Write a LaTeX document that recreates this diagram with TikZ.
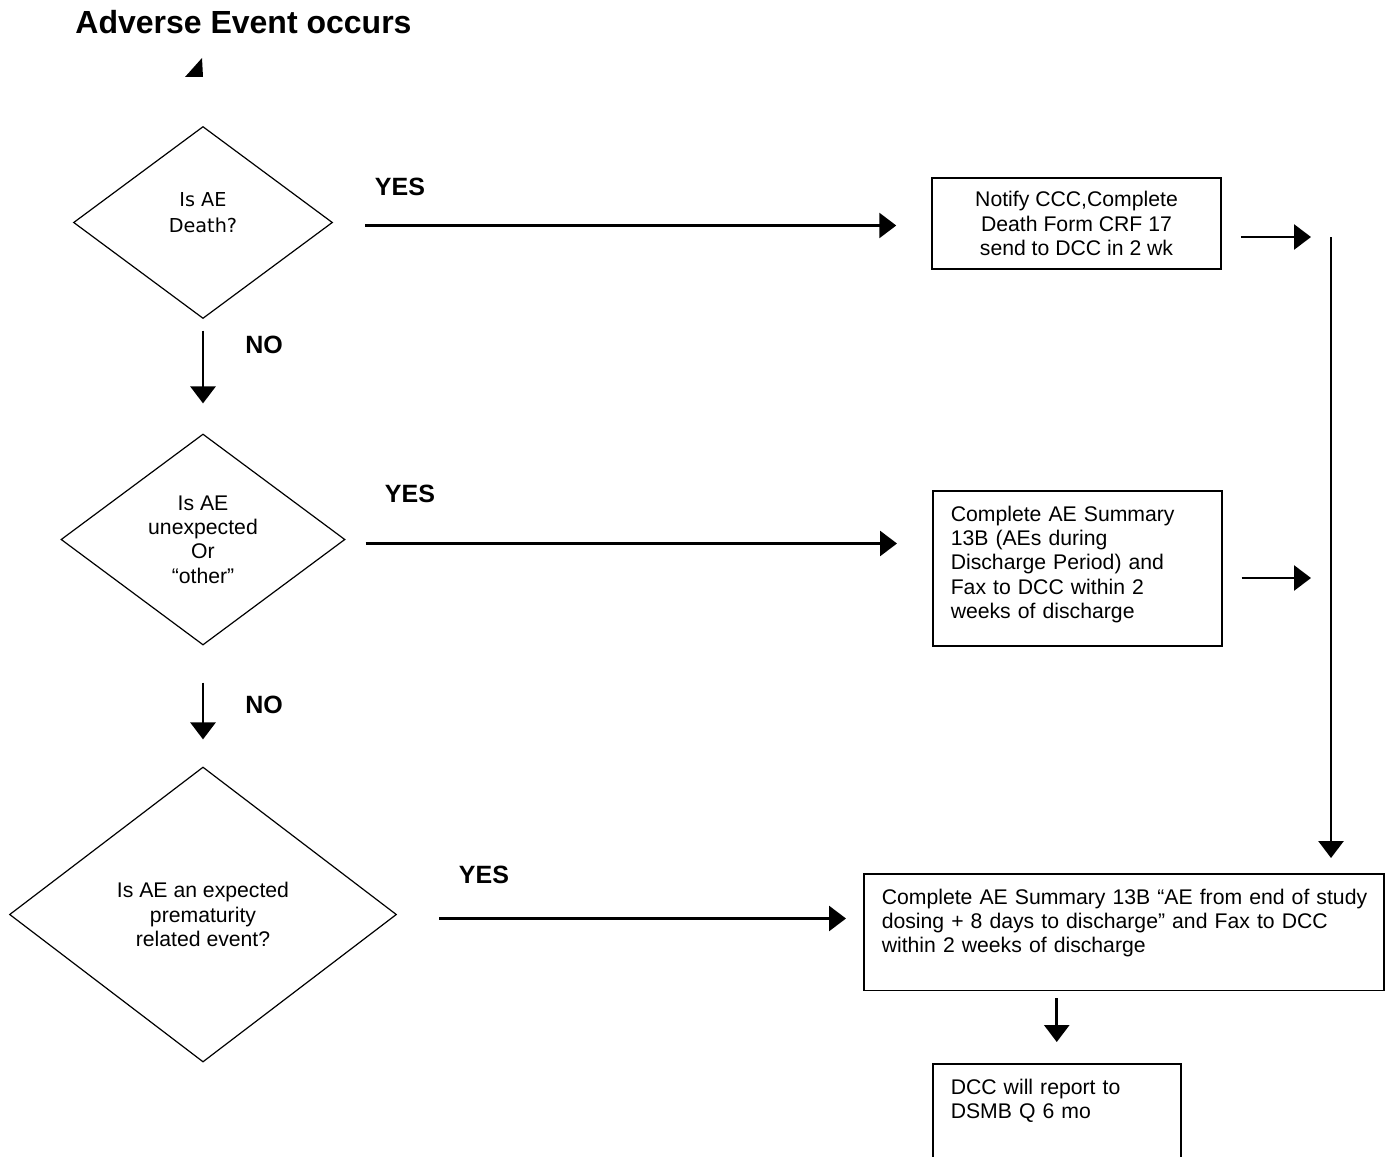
\documentclass[tikz,border=0pt]{standalone}
\usepackage{fontspec}
\setmainfont{Liberation Sans}
\newfontfamily\dejavu{DejaVu Sans}
\usetikzlibrary{shapes.geometric, arrows.meta}

\begin{document}
\begin{tikzpicture}[
    x=0.5pt, y=-0.5pt,
    base/.style = {draw=black, inner sep=0pt, font=\fontsize{10.6}{12.2}\selectfont},
    decision/.style = {base, diamond, line width=0.6pt, align=center},
    process/.style = {base, rectangle, line width=0.75pt, align=center},
    report/.style = {base, rectangle, line width=0.75pt, anchor=north west,
        align=left, inner xsep=9pt, inner ysep=7.5pt},
    answer/.style = {font=\bfseries\fontsize{12.5}{14}\selectfont},
    flow/.style = {-{Triangle[length=8.5pt, width=12.5pt]}, line width=1.4pt}
]
  \useasboundingbox (0,0) rectangle (1385,1156);
  \clip (0,0) rectangle (1385,1156);

  \node (title) [anchor=west, inner sep=0pt, font=\bfseries\fontsize{16}{19}\selectfont] at (75,22) {Adverse Event occurs};
  \fill (185,77) -- (203,77) -- (202,58) -- cycle;

  \node (death) [decision, minimum width=129.5pt, minimum height=96pt, text depth=10pt, font=\dejavu\fontsize{9.6}{13}\selectfont] at (203,222.5) {Is AE\\Death?};
  \node (unexp) [decision, minimum width=142pt, minimum height=105.5pt] at (203,539.5) {Is AE\\unexpected\\Or\\“other”};
  \node (prem)  [decision, minimum width=193.5pt, minimum height=147.5pt] at (203,914.5) {Is AE an expected\\prematurity\\related event?};

  \node (notify)  [process, minimum width=144.5pt, minimum height=45.5pt] at (1076.5,223.5) {Notify CCC,Complete\\Death Form CRF 17\\send to DCC in 2 wk};
  \node (summary) [report, text width=126.5pt, text depth=55pt] at (932,490) {Complete AE Summary\\13B (AEs during\\Discharge Period) and\\Fax to DCC within 2\\weeks of discharge};
  \node (final)   [report, text width=242pt, text depth=35.7pt] at (863,873) {\mbox{Complete AE Summary 13B “AE from end of study}\\dosing + 8 days to discharge” and Fax to DCC\\within 2 weeks of discharge};
  \node (dsmb)    [report, text width=106pt, text depth=50pt] at (932,1063) {DCC will report to\\DSMB Q 6 mo};

  \node (yes1) [answer] at (400,187) {YES};
  \node (yes2) [answer] at (410,494) {YES};
  \node (yes3) [answer] at (484,875) {YES};
  \node (no1)  [answer] at (264,345) {NO};
  \node (no2)  [answer] at (264,705) {NO};

  \coordinate (join1) at (1311,237);
  \coordinate (join2) at (1311,578);
  \coordinate (bus)   at (1331,237);

  \draw[flow, shorten <=16pt, shorten >=17.5pt]  ([yshift=-1.5pt]death.east) -- ([yshift=-1.5pt]death.east -| notify.west);
  \draw[flow, shorten <=10pt, shorten >=17.5pt]  ([yshift=-2pt]unexp.east) -- ([yshift=-2pt]unexp.east -| summary.west);
  \draw[flow, shorten <=21pt, shorten >=8.5pt]   ([yshift=-2pt]prem.east) -- ([yshift=-2pt]prem.east -| final.west);
  \draw[flow, shorten <=5.75pt, shorten >=15pt]  (death.south) -- (unexp.north);
  \draw[flow, shorten <=18.5pt, shorten >=13.5pt] (unexp.south) -- (prem.north);

  \draw[flow, shorten <=9.5pt] (notify.east |- join1) -- (join1);
  \draw[flow, shorten <=9.5pt] (summary.east |- join2) -- (join2);
  \draw[flow, shorten >=7.5pt] (bus) -- (bus |- final.north);
  \draw[flow, shorten <=3.5pt, shorten >=10.5pt] (final.south -| dsmb.north) -- (dsmb.north);

\end{tikzpicture}
\end{document}
